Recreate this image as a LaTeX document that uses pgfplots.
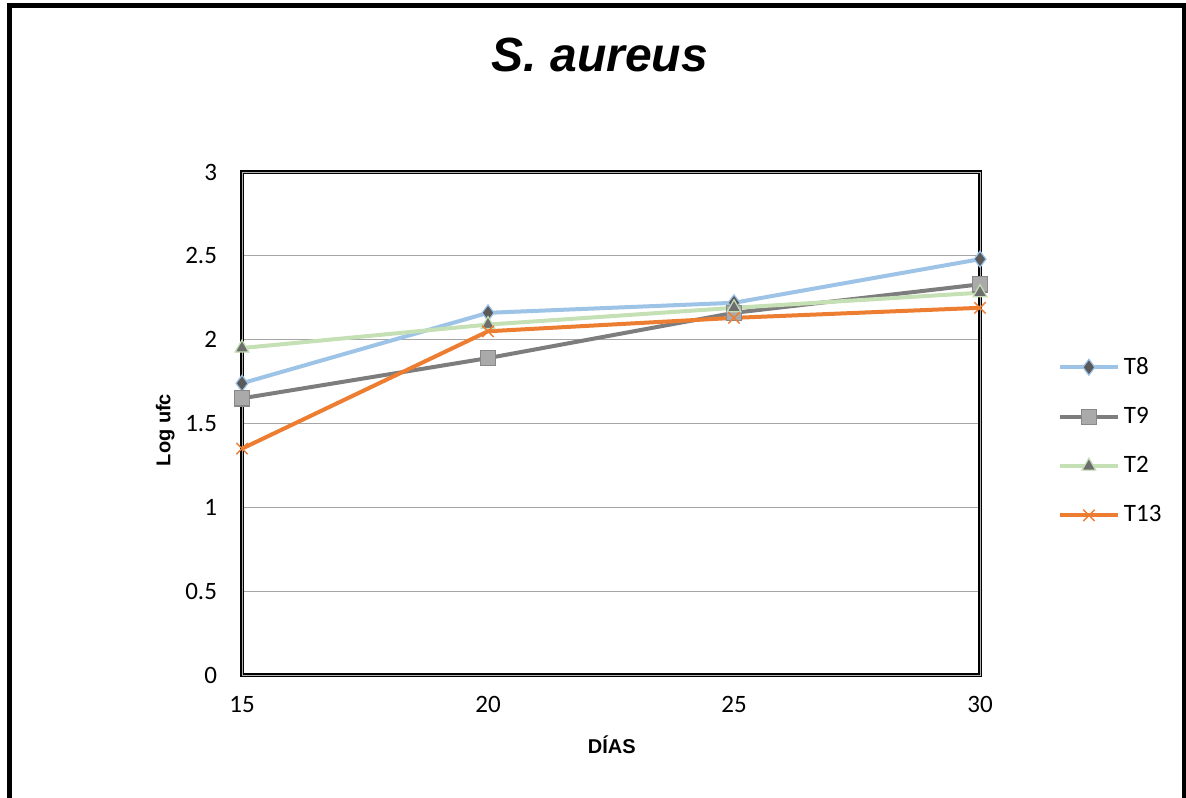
\documentclass[border=0pt]{standalone}
\usepackage{pgfplots}
\pgfplotsset{compat=1.18}
\usepackage{fontspec}
\setmainfont{Carlito}
\newfontfamily\arialfont{Liberation Sans}
\definecolor{cT8}{RGB}{157,195,230}
\definecolor{cT8m}{RGB}{90,90,90}
\definecolor{cT9}{RGB}{125,125,125}
\definecolor{cT9m}{RGB}{170,170,170}
\definecolor{cT2}{RGB}{197,224,180}
\definecolor{cT2m}{RGB}{110,110,110}
\definecolor{cT13}{RGB}{237,125,49}
\begin{document}
\begin{tikzpicture}[x=1pt,y=1pt]
\useasboundingbox (0,0) rectangle (593,398.5);
\draw[line width=2.5pt] (4.75,-5) -- (4.75,395.75) -- (592,395.75) -- (592,-5);
\node[font=\arialfont\bfseries\itshape\fontsize{24}{29}\selectfont] at (300,371) {S. aureus};
\begin{axis}[
  at={(121pt,61pt)}, anchor=south west,
  scale only axis, width=369pt, height=251.5pt,
  xmin=15, xmax=30, ymin=0, ymax=3,
  xtick={15,20,25,30}, ytick={0,0.5,1,1.5,2,2.5,3},
  major tick length=0pt,
  ymajorgrids, grid style={color=gray!70, line width=0.6pt},
  axis line style={black, line width=2pt},
  tick label style={font=\fontsize{12.5}{15}\selectfont},
  /pgf/number format/assume math mode=true,
  xticklabel style={yshift=-7pt},
  yticklabel style={xshift=-9pt},
  xlabel={DÍAS}, ylabel={Log ufc},
  label style={font=\arialfont\bfseries\fontsize{10}{12}\selectfont},
  xlabel style={at={(axis description cs:0.501,-0.139)}, anchor=center},
  ylabel style={at={(axis description cs:-0.104,0.487)}, anchor=center, rotate=0},
  legend style={at={(axis description cs:1.105,0.465)}, anchor=west, draw=none, fill=none,
    font=\fontsize{12.5}{15}\selectfont, row sep=11pt, inner sep=0pt},
  legend cell align=left,
  legend image code/.code={\draw[mark repeat=2,mark phase=2,#1] plot coordinates {(0pt,0pt)(14.5pt,0pt)(29pt,0pt)};},
  clip=false,
]
\addplot[color=cT8, line width=2pt, mark=diamond*, mark size=4pt, mark options={fill=cT8m, draw=cT8, line width=0.6pt}]
  coordinates {(15,1.74) (20,2.16) (25,2.22) (30,2.48)};
\addlegendentry{T8}
\addplot[color=cT9, line width=2pt, mark=square*, mark size=3.8pt, mark options={fill=cT9m, draw=cT9m!80!black, line width=0.6pt}]
  coordinates {(15,1.65) (20,1.89) (25,2.16) (30,2.33)};
\addlegendentry{T9}
\addplot[color=cT2, line width=2pt, mark=triangle*, mark size=4pt, mark options={fill=cT2m, draw=cT2, line width=0.6pt}]
  coordinates {(15,1.95) (20,2.09) (25,2.19) (30,2.28)};
\addlegendentry{T2}
\addplot[color=cT13, line width=2pt, mark=x, mark size=4pt, mark options={draw=cT13, line width=0.7pt}]
  coordinates {(15,1.35) (20,2.05) (25,2.13) (30,2.19)};
\addlegendentry{T13}
\draw[gray!60, line width=0.4pt] (rel axis cs:0,0) rectangle (rel axis cs:1,1);
\end{axis}
\end{tikzpicture}
\end{document}
